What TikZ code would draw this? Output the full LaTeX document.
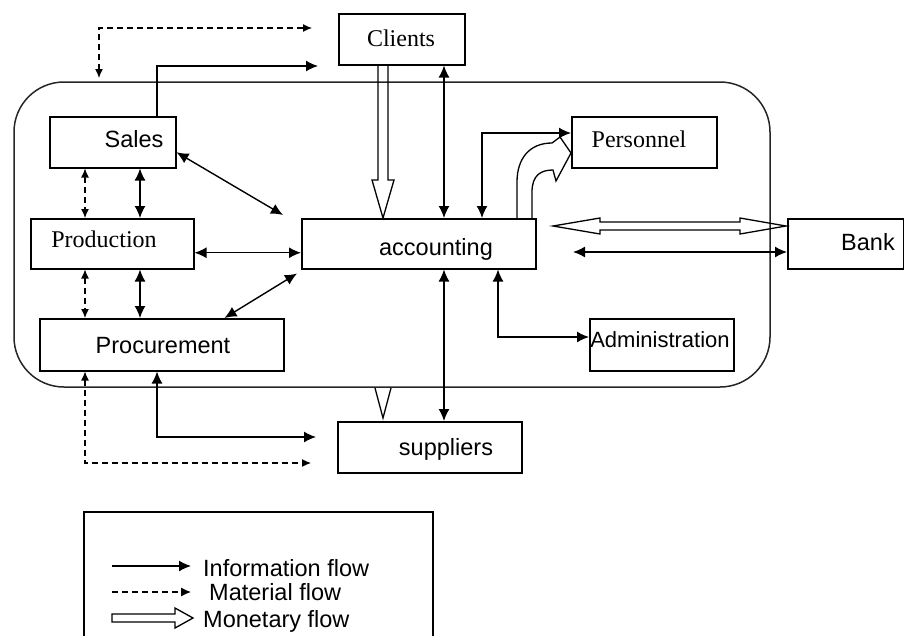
\documentclass[tikz,border=0pt]{standalone}
\usepackage{fontspec}
\setmainfont{Liberation Sans}
\newfontfamily\tnr{Liberation Serif}
\usetikzlibrary{arrows.meta,calc}
\begin{document}
\begin{tikzpicture}[x=1pt,y=-1pt,
  box/.style={draw, line width=1.5pt, fill=white, inner sep=0pt, anchor=north west},
  lbl/.style={anchor=base, inner sep=0pt, font=\fontsize{23.5}{28}\selectfont},
  lbls/.style={anchor=base, inner sep=0pt, font=\tnr\fontsize{24}{28}\selectfont},
  info/.style={line width=1.4pt, {Latex[length=12pt,width=11pt]}-{Latex[length=12pt,width=11pt]}},
  infoone/.style={line width=1.4pt, -{Latex[length=12pt,width=11pt]}},
  mat/.style={line width=1.2pt, dash pattern=on 6pt off 4pt, {Latex[length=9pt,width=8pt]}-{Latex[length=9pt,width=8pt]}},
  matone/.style={line width=1.2pt, dash pattern=on 6pt off 4pt, -{Latex[length=10pt,width=9pt]}},
  money/.style={line width=1.3pt, line join=miter},
]
\useasboundingbox (0,0) rectangle (904,635);

% enterprise outline
\draw[line width=1.5pt, black!85, rounded corners=50pt] (14,82) rectangle (770,387);

% boxes
\node[box, minimum width=126pt, minimum height=51pt] (clients) at (338,13) {};
\node[box, minimum width=126pt, minimum height=51pt] (sales) at (49,116) {};
\node[box, minimum width=163pt, minimum height=50pt] (production) at (30,218) {};
\node[box, minimum width=244pt, minimum height=52pt] (procurement) at (39,318) {};
\node[box, minimum width=234pt, minimum height=50pt] (accounting) at (301,218) {};
\node[box, minimum width=145pt, minimum height=51pt] (personnel) at (571,116) {};
\node[box, minimum width=116pt, minimum height=50pt] (bank) at (787,218) {};
\node[box, minimum width=144pt, minimum height=52pt] (admin) at (589,318) {};
\node[box, minimum width=184pt, minimum height=51pt] (suppliers) at (337,421) {};

% texts
\node[lbls] (tclients) at (401,46) {Clients};
\node[lbl] (tsales) at (134,147) {Sales};
\node[lbls] (tproduction) at (104,247) {Production};
\node[lbl] (tprocurement) at (163,353) {Procurement};
\node[lbl] (taccounting) at (436,255) {accounting};
\node[lbls] (tpersonnel) at (639,147) {Personnel};
\node[lbl] (tbank) at (868,250) {Bank};
\node[lbl, font=\fontsize{22}{26}\selectfont] (tadmin) at (660,347) {Administration};
\node[lbl] (tsuppliers) at (446,455) {suppliers};

% helper coordinates
\coordinate (x85) at (85,0);
\coordinate (x140) at (140,0);
\coordinate (x157) at (157,0);
\coordinate (x444) at (444,0);
\coordinate (x482) at (482,0);
\coordinate (x498) at (498,0);
\coordinate (y133) at (0,133);
\coordinate (y337) at (0,337);
\coordinate (matC) at (312,28);
\coordinate (matCdown) at (99,78);
\coordinate (infC) at (318,66);
\coordinate (infS) at (316,437);
\coordinate (matS) at (311,463);
\coordinate (bankL) at (573,252);

% material flow clients
\draw[mat] (matCdown) |- (matC);
% sales -> clients info
\draw[infoone] (sales.north -| x157) |- (infC);

% monetary clients -> accounting
\draw[money] (378,64) -- (378,180) -- (372,180) -- (383,218) -- (394,180) -- (388,180) -- (388,64);

% clients <-> accounting
\draw[info] (clients.south -| x444) -- (accounting.north -| x444);
% accounting <-> personnel
\draw[info] (accounting.north -| x482) |- (personnel.west |- y133);
% monetary accounting -> personnel (curved)
\draw[money] (517,218) -- (517,182) .. controls (517,158) and (530,143) .. (552,143)
  -- (560,137) -- (571,153) -- (556,181) -- (553,170)
  .. controls (541,170) and (532,175) .. (532,192) -- (532,218);

% bank monetary double arrow
\draw[money] (553,226) -- (600,218) -- (600,222) -- (740,222) -- (740,218) -- (786,226)
  -- (740,234) -- (740,230) -- (600,230) -- (600,234) -- cycle;
% bank info
\draw[info] (bankL) -- (bank.west |- bankL);

% accounting <-> administration
\draw[info] (accounting.south -| x498) |- (admin.west |- y337);
% accounting <-> suppliers
\draw[info] (accounting.south -| x444) -- (suppliers.north -| x444);
% monetary to suppliers (visible head)
\draw[money] (375,388) -- (383,418) -- (391,388);

% sales <-> accounting
\draw[info] ([yshift=-10pt]sales.east) -- ([shift={(-18pt,3pt)}]accounting.north west);
% production <-> accounting
\draw[info] ([yshift=-9pt]production.east) -- ([yshift=-9pt]accounting.west);
% procurement <-> accounting
\draw[info] ([xshift=-60pt]procurement.north east) -- ([shift={(-4pt,-4pt)}]accounting.south west);

% sales <-> production
\draw[info] (sales.south -| x140) -- (production.north -| x140);
\draw[mat] (sales.south -| x85) -- (production.north -| x85);
% production <-> procurement
\draw[info] (production.south -| x140) -- (procurement.north -| x140);
\draw[mat] (production.south -| x85) -- (procurement.north -| x85);

% procurement <-> suppliers
\draw[info] (procurement.south -| x157) |- (infS);
\draw[mat] (procurement.south -| x85) |- (matS);

% legend
\draw[line width=1.5pt] (84,640) |- (433,512) -- (433,640);
\coordinate (li1) at (112,566); \coordinate (li2) at (191,566);
\draw[infoone] (li1) -- (li2);
\node[lbl, anchor=base west] (tinfo) at (203,576) {Information flow};
\coordinate (lm1) at (112,592); \coordinate (lm2) at (191,592);
\draw[matone] (lm1) -- (lm2);
\node[lbl, anchor=base west] (tmat) at (209,600) {Material flow};
\draw[money] (112,614) -- (175,614) -- (175,608) -- (193,618) -- (175,628) -- (175,622) -- (112,622) -- cycle;
\node[lbl, anchor=base west] (tmon) at (203,627) {Monetary flow};
\end{tikzpicture}
\end{document}
